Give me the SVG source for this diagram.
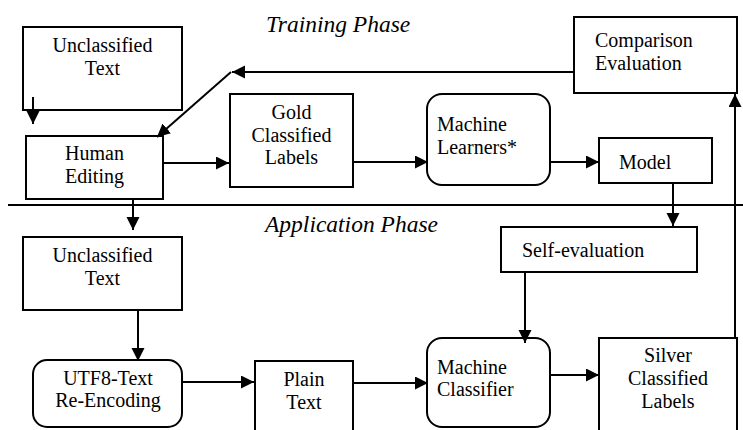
<svg xmlns="http://www.w3.org/2000/svg" width="743" height="430" viewBox="0 0 743 430">
<style>
.box{fill:#fff;stroke:#000;stroke-width:2}
.t{font-size:20px;fill:#000}
.c{text-anchor:middle}
.ph{font-size:23.5px;font-style:italic;fill:#000}
.ln{fill:none;stroke:#000;stroke-width:2}
.ar{fill:none;stroke:#000;stroke-width:2;marker-end:url(#ah)}
</style>
<defs>
<marker id="ah" markerUnits="userSpaceOnUse" markerWidth="14" markerHeight="14" refX="13" refY="6.5" orient="auto" viewBox="0 0 14 14">
<path d="M0,0 L13,6.5 L0,13 z" fill="#000"/>
</marker>
</defs>
<rect width="743" height="430" fill="#fff"/>
<g font-family="'Liberation Serif', 'Times New Roman', serif">
<text class="ph" x="266" y="32">Training Phase</text>
<text class="ph" x="265" y="232">Application Phase</text>
<g id="unclassified-top">
<rect class="box" x="23" y="27" width="159" height="83"/>
<text class="t c" x="102.5" y="52">Unclassified</text>
<text class="t c" x="102.5" y="75">Text</text>
</g>
<g id="human-editing">
<rect class="box" x="26" y="136" width="137" height="63"/>
<text class="t c" x="94.5" y="160">Human</text>
<text class="t c" x="94.5" y="183">Editing</text>
</g>
<g id="gold">
<rect class="box" x="230" y="94" width="123" height="93"/>
<text class="t c" x="291.5" y="119">Gold</text>
<text class="t c" x="291.5" y="142">Classified</text>
<text class="t c" x="291.5" y="164">Labels</text>
</g>
<g id="learners">
<rect class="box" x="427" y="94" width="123" height="91" rx="15"/>
<text class="t" x="437" y="131">Machine</text>
<text class="t" x="437" y="154">Learners*</text>
</g>
<g id="model">
<rect class="box" x="599" y="138" width="113" height="45"/>
<text class="t" x="619" y="169">Model</text>
</g>
<g id="comparison">
<rect class="box" x="574" y="17" width="163" height="76"/>
<text class="t" x="595" y="47">Comparison</text>
<text class="t" x="595" y="70">Evaluation</text>
</g>
<g id="unclassified-app">
<rect class="box" x="23" y="237" width="159" height="73"/>
<text class="t c" x="102.5" y="262">Unclassified</text>
<text class="t c" x="102.5" y="285">Text</text>
</g>
<g id="utf8">
<rect class="box" x="33" y="360" width="149" height="67" rx="14"/>
<text class="t c" x="108" y="385">UTF8-Text</text>
<text class="t c" x="108" y="407">Re-Encoding</text>
</g>
<g id="plain">
<rect class="box" x="255" y="361" width="98" height="80"/>
<text class="t c" x="304" y="386">Plain</text>
<text class="t c" x="304" y="409">Text</text>
</g>
<g id="self-eval">
<rect class="box" x="501" y="227" width="196" height="45"/>
<text class="t" x="522" y="257">Self-evaluation</text>
</g>
<g id="classifier">
<rect class="box" x="427" y="338" width="123" height="89" rx="15"/>
<text class="t" x="437" y="374">Machine</text>
<text class="t" x="437" y="396">Classifier</text>
</g>
<g id="silver">
<rect class="box" x="599" y="338" width="138" height="100"/>
<text class="t c" x="668" y="362">Silver</text>
<text class="t c" x="668" y="385">Classified</text>
<text class="t c" x="668" y="408">Labels</text>
</g>
</g>
<g id="connectors">
<line class="ln" x1="8" y1="205" x2="743" y2="205"/>
<line class="ar" x1="33" y1="97" x2="33" y2="124"/>
<line class="ar" x1="574" y1="72" x2="232" y2="72"/>
<line class="ar" x1="231" y1="72" x2="157" y2="137"/>
<line class="ar" x1="163" y1="163" x2="229" y2="163"/>
<line class="ar" x1="353" y1="162" x2="428" y2="162"/>
<line class="ar" x1="550" y1="162" x2="599" y2="162"/>
<line class="ar" x1="735" y1="338" x2="735" y2="94"/>
<line class="ar" x1="673" y1="183" x2="673" y2="226"/>
<line class="ar" x1="133" y1="199" x2="133" y2="230"/>
<line class="ar" x1="138" y1="310" x2="138" y2="361"/>
<line class="ar" x1="182" y1="382" x2="254" y2="382"/>
<line class="ar" x1="353" y1="383" x2="428" y2="383"/>
<line class="ar" x1="525" y1="272" x2="525" y2="343"/>
<line class="ar" x1="550" y1="375" x2="599" y2="375"/>
</g>
</svg>
